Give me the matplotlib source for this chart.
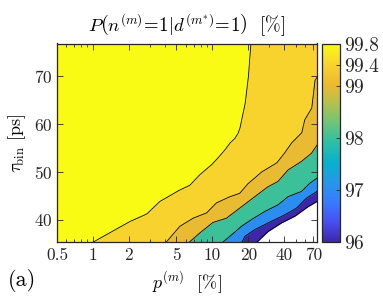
import numpy as np
import matplotlib
matplotlib.use('Agg')
import matplotlib.pyplot as plt
from matplotlib.colors import LinearSegmentedColormap, Normalize
from matplotlib.cm import ScalarMappable
from matplotlib.ticker import NullFormatter

plt.rcParams['font.family'] = 'serif'
plt.rcParams['font.serif'] = ['cmr10']
plt.rcParams['mathtext.fontset'] = 'cm'
plt.rcParams['axes.formatter.use_mathtext'] = True

# axis ranges and ticks
p_lim = (0.5, 75)
tau_lim = (35.2, 76.9)
p_ticks = [0.5, 1, 2, 5, 10, 20, 40, 70]
p_ticklabels = ['0.5', '1', '2', '5', '10', '20', '40', '70']
tau_ticks = [40, 50, 60, 70]
cbar_ticks = [96, 97, 98, 99, 99.4, 99.8]
cbar_ticklabels = ['96', '97', '98', '99', '99.4', '99.8']

# contour lines of P [%]: p^(m) [%] vs tau_bin [ps]
p_998 = [0.99, 2.04, 2.83, 3.63, 4.40, 5.24, 6.47, 7.84, 9.83, 11.1, 12.7, 14.1, 15.4, 16.4, 17.0, 18.8, 20.0, 21.0]
tau_998 = [35.2, 39.6, 41.2, 43.8, 45.0, 46.1, 47.2, 49.4, 51.5, 52.9, 54.6, 56.1, 57.0, 58.1, 59.2, 64.4, 70.0, 77.0]

p_994 = [4.08, 5.34, 6.90, 8.93, 10.8, 14.0, 16.9, 19.8, 25.9, 34.6, 40.3, 46.1, 55.9, 59.2, 67.8, 72.2, 75.0]
tau_994 = [35.2, 38.6, 40.3, 41.4, 43.5, 44.8, 45.5, 47.5, 50.0, 51.9, 54.0, 56.1, 58.2, 60.9, 63.4, 69.2, 69.8]

p_99 = [6.35, 7.84, 10.1, 13.1, 16.9, 22.6, 29.2, 35.4, 42.9, 55.6, 67.4, 75.0]
tau_99 = [35.2, 37.2, 39.4, 40.3, 42.4, 44.8, 46.9, 48.0, 50.4, 52.2, 53.9, 55.6]

p_98 = [12.1, 14.0, 17.5, 21.2, 27.4, 35.4, 42.9, 55.6, 65.2, 75.0]
tau_98 = [35.2, 36.5, 38.6, 40.0, 41.7, 43.1, 44.8, 45.9, 47.6, 48.7]

p_97 = [17.6, 18.7, 22.6, 29.2, 40.3, 50.5, 61.2, 75.0]
tau_97 = [35.2, 36.5, 37.9, 39.3, 41.0, 42.4, 44.5, 45.9]

p_96 = [23.4, 29.2, 37.8, 48.9, 63.1, 75.0]
tau_96 = [35.2, 37.5, 39.3, 40.7, 42.7, 43.8]

curves = {99.8: (p_998, tau_998), 99.4: (p_994, tau_994), 99: (p_99, tau_99),
          98: (p_98, tau_98), 97: (p_97, tau_97), 96: (p_96, tau_96)}
levels = [99.8, 99.4, 99, 98, 97, 96]

# parula-like colormap
parula_pts = [
    (0.2422, 0.1504, 0.6603), (0.2760, 0.3106, 0.9470), (0.2178, 0.4805, 0.9998),
    (0.1487, 0.5962, 0.9120), (0.0257, 0.6929, 0.8073), (0.1687, 0.7476, 0.6493),
    (0.4218, 0.7736, 0.4769), (0.7020, 0.7561, 0.3034), (0.9276, 0.7301, 0.1860),
    (0.9743, 0.8306, 0.1743), (0.9769, 0.9839, 0.0805)]
parula = LinearSegmentedColormap.from_list('parula', parula_pts, N=256)
norm = Normalize(96, 99.8)

fig = plt.figure(figsize=(3.83, 3.0), dpi=100)
ax = fig.add_axes([0.1488, 0.1917, 0.6789, 0.6633])
ax.set_facecolor(parula(norm(99.8)))

# fill below each contour line with the colour of the next lower level
for i, lev in enumerate(levels):
    p, tau = curves[lev]
    p = np.asarray(p, dtype=float)
    tau = np.asarray(tau, dtype=float)
    if p[-1] < p_lim[1]:
        p = np.append(p, p_lim[1])
        tau = np.append(tau, tau[-1])
    if i + 1 < len(levels):
        fc = parula(norm(levels[i + 1]))
    else:
        fc = 'white'
    ax.fill_between(p, tau, tau_lim[0] - 5, color=fc, lw=0, zorder=1)

for lev in levels:
    p, tau = curves[lev]
    ax.plot(p, tau, color='k', lw=0.6, zorder=2)

ax.set_xscale('log')
ax.set_xlim(p_lim)
ax.set_ylim(tau_lim)
ax.set_xticks(p_ticks)
ax.set_xticklabels(p_ticklabels)
ax.xaxis.set_minor_formatter(NullFormatter())
ax.set_yticks(tau_ticks)
ax.tick_params(which='both', direction='in', top=True, right=True,
               labelsize=12.5, colors='#262626', width=0.6)
ax.tick_params(which='major', length=4)
ax.tick_params(which='minor', length=2)
for s in ax.spines.values():
    s.set_color('#262626')
    s.set_linewidth(0.9)
    s.set_zorder(5)

ax.set_title(r'$P\left(n^{(m)}\!=\!1|d^{(m^{*})}\!=\!1\right)$  [%]', fontsize=13.5, pad=8)
ax.set_xlabel(r'$p^{(m)}$  [%]', fontsize=13, labelpad=5)
ax.set_ylabel(r'$\tau_{\rm bin}$ [ps]', fontsize=13, labelpad=4)
fig.text(0.02, 0.045, '(a)', fontsize=16)

cax = fig.add_axes([0.8407, 0.193, 0.047, 0.66])
cb = fig.colorbar(ScalarMappable(norm=norm, cmap=parula), cax=cax)
cb.set_ticks(cbar_ticks)
cb.set_ticklabels(cbar_ticklabels)
cax.tick_params(direction='in', length=3, labelsize=14, colors='#262626', width=0.6, pad=3)
cb.outline.set_edgecolor('#262626')
cb.outline.set_linewidth(0.9)

fig.savefig('out.png', dpi=100)
